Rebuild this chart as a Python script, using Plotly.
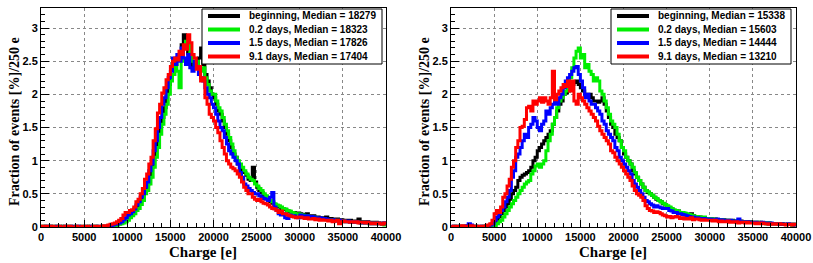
import numpy as np
import plotly.graph_objects as go

BIN_WIDTH = 250
N_BINS = 160
edges = np.arange(N_BINS + 1) * BIN_WIDTH  # 0 ... 40000

series_names = ["beginning", "0.2 days", "1.5 days", "9.1 days"]
series_colors = ["#000000", "#00ee00", "#0000ff", "#ff0000"]
left_medians = [18279, 18323, 17826, 17404]
right_medians = [15338, 15603, 14444, 13210]

# ---------- LEFT PANEL (fraction of events [%] per 250 e bin) ----------
left_black = [
    0.01,0.0,0.01,0.0,0.01,0.0,0.0,0.01,0.0,0.0, 0.01,0.0,0.0,0.01,0.0,0.0,0.0,0.01,0.0,0.0,
    0.0,0.0,0.01,0.0,0.0,0.01,0.0,0.0,0.01,0.0, 0.01,0.01,0.02,0.02,0.03,0.04,0.05,0.07,0.09,0.12,
    0.15,0.18,0.2,0.25,0.3,0.35,0.4,0.45,0.58,0.65, 0.75,0.9,1.05,1.2,1.4,1.55,1.65,1.8,2.0,2.15,
    2.25,2.3,2.45,2.55,2.6,2.75,2.9,2.7,2.62,2.5, 2.4,2.5,2.45,2.55,2.7,2.45,2.3,2.2,2.1,2.0,
    1.95,1.85,1.75,1.7,1.6,1.5,1.4,1.3,1.2,1.1, 1.05,0.95,0.9,0.85,0.82,0.78,0.72,0.7,0.9,0.68,
    0.6,0.55,0.52,0.48,0.45,0.42,0.38,0.36,0.34,0.32, 0.3,0.28,0.27,0.26,0.24,0.23,0.22,0.22,0.2,0.21,
    0.2,0.19,0.18,0.2,0.17,0.16,0.17,0.15,0.15,0.14, 0.14,0.13,0.15,0.12,0.13,0.12,0.11,0.12,0.1,0.11,
    0.1,0.1,0.09,0.1,0.09,0.08,0.09,0.12,0.08,0.08, 0.07,0.08,0.07,0.06,0.07,0.07,0.06,0.06,0.05,0.06,
]
left_green = [
    0.0,0.01,0.0,0.0,0.01,0.0,0.01,0.0,0.0,0.01, 0.0,0.0,0.01,0.0,0.0,0.01,0.0,0.0,0.0,0.01,
    0.0,0.01,0.0,0.0,0.0,0.01,0.0,0.0,0.0,0.01, 0.01,0.01,0.01,0.02,0.02,0.03,0.04,0.05,0.06,0.08,
    0.1,0.14,0.17,0.2,0.25,0.28,0.34,0.4,0.5,0.55, 0.65,0.75,0.9,1.05,1.2,1.4,1.55,1.7,1.85,2.0,
    2.2,2.3,2.45,2.35,2.1,2.5,2.7,2.8,2.75,2.6, 2.5,2.45,2.5,2.4,2.35,2.4,2.25,2.15,2.05,2.0,
    2.0,1.9,1.8,1.75,1.65,1.55,1.45,1.35,1.25,1.15, 1.05,1.0,0.95,0.9,0.85,0.8,0.75,0.72,0.7,0.65,
    0.62,0.58,0.55,0.5,0.47,0.44,0.4,0.38,0.35,0.33, 0.32,0.3,0.28,0.27,0.25,0.24,0.22,0.21,0.2,0.2,
    0.19,0.18,0.17,0.17,0.16,0.15,0.15,0.14,0.13,0.13, 0.12,0.12,0.11,0.1,0.11,0.1,0.09,0.1,0.09,0.09,
    0.09,0.08,0.08,0.08,0.07,0.08,0.07,0.07,0.06,0.07, 0.06,0.06,0.05,0.06,0.05,0.06,0.05,0.05,0.04,0.03,
]
left_blue = [
    0.0,0.0,0.01,0.0,0.01,0.0,0.0,0.01,0.01,0.0, 0.0,0.01,0.0,0.0,0.01,0.0,0.0,0.01,0.0,0.0,
    0.01,0.0,0.0,0.01,0.0,0.0,0.01,0.0,0.0,0.01, 0.01,0.02,0.02,0.03,0.04,0.05,0.06,0.08,0.11,0.14,
    0.18,0.2,0.23,0.27,0.33,0.38,0.45,0.5,0.6,0.68, 0.85,0.95,1.15,1.3,1.5,1.65,1.85,1.95,2.1,2.25,
    2.35,2.55,2.45,2.6,2.5,2.7,2.55,2.45,2.6,2.4, 2.35,2.5,2.4,2.3,2.25,2.2,2.1,2.0,1.95,1.85,
    1.8,1.7,1.6,1.5,1.45,1.35,1.25,1.15,1.1,1.05, 1.0,0.95,0.82,0.75,0.65,0.62,0.58,0.55,0.52,0.5,
    0.5,0.47,0.45,0.43,0.42,0.4,0.45,0.52,0.3,0.25, 0.2,0.18,0.2,0.14,0.13,0.18,0.16,0.17,0.15,0.14,
    0.18,0.17,0.16,0.17,0.15,0.16,0.15,0.14,0.13,0.14, 0.12,0.13,0.12,0.11,0.1,0.11,0.1,0.09,0.1,0.09,
    0.09,0.08,0.09,0.07,0.08,0.07,0.08,0.07,0.06,0.07, 0.06,0.07,0.06,0.05,0.06,0.05,0.06,0.05,0.05,0.06,
]
left_red = [
    0.01,0.01,0.0,0.01,0.0,0.01,0.0,0.0,0.01,0.0, 0.0,0.01,0.0,0.01,0.0,0.0,0.01,0.0,0.0,0.01,
    0.0,0.01,0.0,0.0,0.01,0.0,0.01,0.0,0.01,0.02, 0.02,0.03,0.04,0.05,0.06,0.08,0.1,0.13,0.18,0.22,
    0.22,0.25,0.26,0.3,0.38,0.42,0.5,0.58,0.72,0.8, 0.95,1.05,1.3,1.48,1.72,1.85,2.02,2.1,2.22,2.3,
    2.42,2.5,2.55,2.52,2.65,2.6,2.75,2.68,2.9,2.78, 2.6,2.55,2.38,2.42,2.2,2.25,1.95,1.85,1.7,1.65,
    1.6,1.5,1.42,1.3,1.2,1.1,1.0,0.95,0.9,0.88, 0.85,0.8,0.75,0.68,0.6,0.55,0.5,0.5,0.45,0.42,
    0.4,0.42,0.38,0.36,0.35,0.33,0.3,0.28,0.27,0.25, 0.22,0.24,0.2,0.2,0.18,0.17,0.16,0.15,0.14,0.15,
    0.15,0.14,0.13,0.14,0.12,0.12,0.13,0.11,0.12,0.1, 0.11,0.1,0.1,0.09,0.1,0.08,0.09,0.1,0.05,0.08,
    0.09,0.08,0.08,0.07,0.08,0.07,0.08,0.06,0.07,0.07, 0.06,0.07,0.06,0.05,0.06,0.05,0.06,0.05,0.04,0.06,
]

# ---------- RIGHT PANEL ----------
right_black = [
    0.0,0.01,0.0,0.0,0.01,0.0,0.01,0.01,0.02,0.01, 0.0,0.01,0.0,0.0,0.01,0.0,0.0,0.01,0.02,0.03,
    0.05,0.1,0.15,0.2,0.25,0.3,0.35,0.42,0.5,0.55, 0.6,0.7,0.75,0.78,0.8,0.82,0.85,0.9,1.0,1.05,
    1.15,1.2,1.25,1.3,1.35,1.4,1.45,1.55,1.65,1.75, 1.85,1.9,2.0,2.02,2.05,2.1,2.15,2.18,2.2,2.15,
    2.1,2.05,2.0,2.0,2.0,1.95,1.9,1.9,1.88,1.9, 1.95,1.85,1.75,1.65,1.55,1.5,1.4,1.35,1.3,1.2,
    1.1,1.05,1.0,0.95,0.85,0.8,0.75,0.7,0.65,0.6, 0.55,0.52,0.5,0.48,0.45,0.42,0.4,0.38,0.35,0.33,
    0.3,0.29,0.27,0.25,0.25,0.24,0.22,0.21,0.2,0.19, 0.18,0.2,0.17,0.16,0.15,0.15,0.14,0.14,0.13,0.13,
    0.13,0.12,0.12,0.11,0.11,0.1,0.11,0.1,0.1,0.09, 0.1,0.09,0.09,0.08,0.09,0.08,0.08,0.07,0.08,0.07,
    0.07,0.07,0.06,0.07,0.06,0.06,0.05,0.06,0.05,0.05, 0.05,0.05,0.04,0.05,0.04,0.04,0.04,0.04,0.03,0.04,
]
right_green = [
    0.0,0.0,0.01,0.0,0.0,0.01,0.0,0.0,0.01,0.0, 0.0,0.01,0.0,0.0,0.0,0.01,0.0,0.0,0.0,0.01,
    0.02,0.05,0.08,0.1,0.15,0.2,0.25,0.3,0.35,0.4, 0.45,0.5,0.55,0.6,0.65,0.68,0.7,0.8,0.85,0.92,
    0.95,0.9,0.95,1.0,1.15,1.3,1.4,1.55,1.65,1.8, 1.9,1.95,2.0,2.05,2.1,2.25,2.4,2.55,2.65,2.7,
    2.55,2.6,2.4,2.45,2.35,2.3,2.2,2.25,2.2,2.05, 2.0,1.9,1.8,1.7,1.6,1.55,1.5,1.4,1.3,1.2,
    1.15,1.05,1.0,0.95,0.9,0.82,0.75,0.7,0.65,0.6, 0.55,0.53,0.5,0.48,0.45,0.43,0.4,0.38,0.36,0.34,
    0.32,0.3,0.28,0.26,0.25,0.24,0.22,0.22,0.21,0.2, 0.19,0.18,0.17,0.16,0.16,0.15,0.14,0.15,0.13,0.13,
    0.13,0.12,0.12,0.11,0.11,0.11,0.1,0.1,0.1,0.09, 0.09,0.09,0.08,0.09,0.08,0.08,0.08,0.07,0.07,0.07,
    0.07,0.06,0.07,0.06,0.06,0.06,0.05,0.06,0.05,0.05, 0.05,0.05,0.04,0.05,0.04,0.04,0.04,0.04,0.03,0.04,
]
right_blue = [
    0.0,0.01,0.0,0.01,0.01,0.0,0.01,0.02,0.05,0.03, 0.01,0.01,0.0,0.01,0.01,0.0,0.01,0.02,0.03,0.05,
    0.1,0.15,0.2,0.25,0.3,0.38,0.45,0.55,0.75,0.85, 1.05,1.1,1.2,1.3,1.4,1.35,1.5,1.55,1.65,1.6,
    1.5,1.45,1.55,1.6,1.75,1.7,1.8,1.85,1.9,1.85, 1.95,2.0,2.1,2.2,2.25,2.3,2.35,2.4,2.42,2.3,
    2.2,2.1,1.95,2.0,1.9,1.85,1.85,1.8,1.75,1.7, 1.6,1.55,1.45,1.4,1.35,1.3,1.2,1.15,1.05,1.0,
    0.95,0.9,0.85,0.8,0.7,0.65,0.6,0.55,0.5,0.45, 0.4,0.38,0.35,0.33,0.3,0.32,0.3,0.29,0.28,0.28,
    0.28,0.25,0.24,0.22,0.22,0.2,0.2,0.19,0.18,0.17, 0.16,0.15,0.15,0.14,0.14,0.13,0.13,0.13,0.12,0.12,
    0.12,0.11,0.11,0.12,0.1,0.11,0.1,0.1,0.09,0.1, 0.09,0.09,0.08,0.12,0.08,0.08,0.07,0.08,0.07,0.07,
    0.07,0.07,0.06,0.06,0.07,0.06,0.06,0.05,0.06,0.05, 0.05,0.05,0.04,0.05,0.04,0.04,0.05,0.04,0.04,0.03,
]
right_red = [
    0.0,0.01,0.01,0.0,0.01,0.02,0.01,0.0,0.01,0.02, 0.01,0.0,0.01,0.01,0.0,0.01,0.02,0.03,0.05,0.1,
    0.2,0.25,0.22,0.3,0.45,0.5,0.62,0.72,0.9,1.0, 1.2,1.3,1.5,1.52,1.62,1.8,1.82,1.75,1.9,1.85,
    1.9,1.95,1.88,1.95,1.9,1.85,1.95,2.35,1.92,2.0, 2.05,2.1,2.15,2.12,2.2,2.05,2.2,1.9,1.85,2.0,
    1.95,1.9,1.85,1.8,1.75,1.7,1.65,1.6,1.52,1.45, 1.4,1.35,1.3,1.25,1.15,1.12,1.05,1.0,0.95,0.9,
    0.85,0.8,0.75,0.7,0.62,0.55,0.5,0.48,0.45,0.4, 0.32,0.28,0.25,0.24,0.22,0.23,0.22,0.2,0.18,0.17,
    0.15,0.16,0.14,0.15,0.16,0.15,0.13,0.14,0.12,0.13, 0.12,0.14,0.11,0.12,0.12,0.11,0.1,0.11,0.1,0.1,
    0.1,0.09,0.1,0.09,0.08,0.09,0.08,0.08,0.09,0.07, 0.08,0.07,0.08,0.06,0.07,0.07,0.06,0.07,0.06,0.06,
    0.06,0.05,0.06,0.05,0.06,0.05,0.05,0.04,0.05,0.04, 0.05,0.04,0.05,0.04,0.04,0.03,0.04,0.04,0.03,0.04,
]

x_tick_vals = [0, 5000, 10000, 15000, 20000, 25000, 30000, 35000, 40000]
x_tick_text = ["0", "5000", "10000", "15000", "20000", "25000", "30000", "35000", "40000"]
y_tick_vals = [0, 0.5, 1, 1.5, 2, 2.5, 3]
y_tick_text = ["0", "0.5", "1", "1.5", "2", "2.5", "3"]
x_title = "Charge [e]"
y_title = "Fraction of events [%]/250 e"

W, H = 813, 263
# plot-area pixel geometry
L_X0, L_X1 = 41, 386
R_X0, R_X1 = 451, 796
Y_TOP, Y_BOT = 7.5, 227

fig = go.Figure()

panels = [
    ("x", "y", [left_black, left_green, left_blue, left_red], left_medians),
    ("x2", "y2", [right_black, right_green, right_blue, right_red], right_medians),
]
for xa, ya, data, meds in panels:
    for name, col, vals, med in zip(series_names, series_colors, data, meds):
        fig.add_trace(go.Scatter(
            x=edges, y=list(vals) + [vals[-1]],
            mode="lines", line=dict(color=col, width=3, shape="hv"),
            name=f"{name}, Median = {med}", xaxis=xa, yaxis=ya, showlegend=False,
        ))

tickfont = dict(family="Liberation Sans, Arial", size=11, color="black", weight="bold")
common_x = dict(
    range=[0, 40000], tickvals=x_tick_vals, ticktext=x_tick_text,
    ticks="inside", ticklen=7, tickcolor="black", automargin=False,
    showline=True, linecolor="black", linewidth=1, mirror=True,
    showgrid=True, gridcolor="#888888", griddash="dot", gridwidth=1,
    zeroline=False, tickfont=tickfont,
    minor=dict(dtick=1000, ticks="inside", ticklen=4, tickcolor="black", showgrid=False),
)
common_y = dict(
    range=[0, 3.31], tickvals=y_tick_vals, ticktext=y_tick_text,
    ticks="inside", ticklen=8, tickcolor="black", automargin=False,
    showline=True, linecolor="black", linewidth=1, mirror=True,
    showgrid=True, gridcolor="#888888", griddash="dot", gridwidth=1,
    zeroline=False, tickfont=tickfont,
    minor=dict(dtick=0.1, ticks="inside", ticklen=4, tickcolor="black", showgrid=False),
)
ydom = [1 - Y_BOT / H, 1 - Y_TOP / H]
fig.update_layout(
    width=W, height=H, margin=dict(l=0, r=0, t=0, b=0, autoexpand=False),
    paper_bgcolor="white", plot_bgcolor="white", showlegend=False,
    xaxis=dict(domain=[L_X0 / W, L_X1 / W], anchor="y", **common_x),
    yaxis=dict(domain=ydom, anchor="x", **common_y),
    xaxis2=dict(domain=[R_X0 / W, R_X1 / W], anchor="y2", **common_x),
    yaxis2=dict(domain=ydom, anchor="x2", **common_y),
)

title_font = dict(family="Liberation Serif, Times New Roman", size=15, color="black", weight="bold")
ytitle_font = dict(family="Liberation Serif, Times New Roman", size=14, color="black", weight="bold")

for x0, x1 in [(L_X0, L_X1), (R_X0, R_X1)]:
    fig.add_annotation(x=((x0 + x1) / 2 - 11) / W, y=1 - 252 / H, xref="paper", yref="paper",
                       text=x_title, showarrow=False, font=title_font,
                       xanchor="center", yanchor="middle")
    fig.add_annotation(x=(x0 - 26) / W, y=1 - 122 / H, xref="paper", yref="paper",
                       text=y_title, showarrow=False, font=ytitle_font, textangle=-90,
                       xanchor="center", yanchor="middle")

# legends (ROOT-style boxes)
leg_font = dict(family="Liberation Sans, Arial", size=10, color="black", weight="bold")
row_y = [16, 29.5, 43, 56.5]
for box_x0, meds in [(202, left_medians), (611, right_medians)]:
    fig.add_shape(type="rect", xref="paper", yref="paper",
                  x0=box_x0 / W, x1=(box_x0 + 180) / W, y0=1 - 64 / H, y1=1 - 9 / H,
                  line=dict(color="black", width=1), fillcolor="white", layer="above")
    for name, col, med, ry in zip(series_names, series_colors, meds, row_y):
        fig.add_shape(type="line", xref="paper", yref="paper",
                      x0=(box_x0 + 6) / W, x1=(box_x0 + 38) / W,
                      y0=1 - ry / H, y1=1 - ry / H,
                      line=dict(color=col, width=4), layer="above")
        fig.add_annotation(x=(box_x0 + 45) / W, y=1 - ry / H, xref="paper", yref="paper",
                           text=f"{name}, Median = {med}", showarrow=False, font=leg_font,
                           xanchor="left", yanchor="middle")

fig.write_html("out.html", config={"displayModeBar": False, "staticPlot": True},
               post_script="document.body.style.margin='0';document.body.style.overflow='hidden';")
